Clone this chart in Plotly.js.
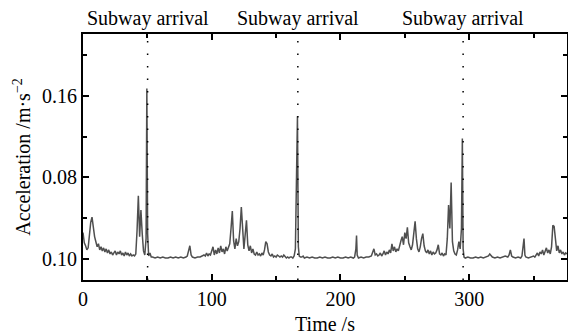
<!DOCTYPE html>
<html>
<head>
<meta charset="utf-8">
<script src="https://cdn.plot.ly/plotly-3.0.1.min.js"></script>
<style>html,body{margin:0;padding:0;background:#fff;}#chart{width:568px;height:336px;}</style>
</head>
<body>
<div id="chart"></div>
<script>
const timeS = [0,1,2,3,4,5,6,7,8,9,10,11,12,13,14,15,16,17,18,19,20,21,22,23,24,25,26,27,28,29,30,31,32,33,34,35,36,37,38,39,40,41,42,43,44,45,46,47,48,49,49.6,50.2,51,52,53,
54,56,58,60,62,64,66,68,70,72,74,76,78,80,81,82,83,84,85,87,89,91,93,94,95,96,97,98,99,100,101,102,103,104,105,106,107,108,109,110,111,112,113,114,115,116,117,118,119,120,121,122,123,124,125,126,127,128,129,130,131,132,133,134,135,136,137,138,139,140,141,142,143,144,145,146,147,148,149,150,151,152,153,154,155,156,157,158,159,160,161,162,163,164,165,166.6,167.3,168,169,170,171,
172,174,176,178,180,182,184,186,188,190,192,194,196,198,200,202,204,206,208,210,211,212,212.5,213,214,216,218,220,222,224,225,226,227,228,229,230,231,232,233,234,235,236,237,238,239,240,241,242,243,244,245,246,247,248,249,250,251,252,253,254,255,256,257,258,259,260,261,262,263,264,265,266,267,268,269,270,271,272,273,274,275,276,277,278,279,280,281,282,283,284,285,286,287,288,289,290,291,292,293,294,294.7,295.3,296,
297,299,301,303,305,307,309,311,313,315,316,317,318,320,322,324,326,328,330,331,332,333,334,336,338,340,341,342,342.6,343.3,344,346,348,350,351,352,353,354,355,356,357,358,359,360,361,362,363,364,365,366,367,368,369,370,371,372,373,374,375,376];
const accel = [0.026,0.016,0.013,0.009,0.011,0.024,0.036,0.041,0.030,0.022,0.017,0.012,0.015,0.009,0.012,0.008,0.011,0.007,0.010,0.006,0.009,0.005,0.007,0.004,0.006,0.008,0.004,0.007,0.005,0.008,0.004,0.006,0.003,0.007,0.004,0.006,0.003,0.005,0.003,0.004,0.003,0.005,0.028,0.062,0.022,0.048,0.025,0.008,0.004,0.020,0.167,0.025,0.003,0.006,0.002,
0.002,0.001,0.002,0.001,0.002,0.001,0.001,0.002,0.001,0.002,0.001,0.002,0.001,0.002,0.003,0.008,0.013,0.004,0.002,0.001,0.002,0.002,0.003,0.004,0.003,0.006,0.003,0.005,0.004,0.008,0.012,0.004,0.009,0.005,0.011,0.006,0.013,0.007,0.010,0.005,0.012,0.008,0.011,0.015,0.030,0.047,0.018,0.010,0.020,0.013,0.017,0.030,0.051,0.022,0.010,0.024,0.038,0.014,0.008,0.013,0.006,0.010,0.005,0.004,0.007,0.004,0.005,0.003,0.006,0.004,0.009,0.017,0.015,0.007,0.004,0.003,0.005,0.002,0.003,0.002,0.004,0.003,0.002,0.003,0.002,0.004,0.002,0.001,0.002,0.001,0.002,0.002,0.001,0.003,0.010,0.140,0.012,0.003,0.002,0.002,0.003,
0.001,0.002,0.001,0.002,0.001,0.001,0.002,0.001,0.002,0.001,0.001,0.002,0.001,0.002,0.001,0.001,0.002,0.001,0.002,0.001,0.002,0.010,0.023,0.004,0.001,0.002,0.001,0.002,0.002,0.003,0.006,0.010,0.004,0.005,0.003,0.004,0.006,0.003,0.005,0.008,0.004,0.007,0.005,0.009,0.006,0.015,0.008,0.012,0.007,0.010,0.008,0.014,0.018,0.022,0.014,0.026,0.020,0.031,0.016,0.012,0.009,0.014,0.025,0.037,0.020,0.010,0.007,0.012,0.020,0.025,0.013,0.008,0.006,0.009,0.005,0.008,0.004,0.007,0.005,0.006,0.009,0.014,0.005,0.004,0.006,0.003,0.005,0.004,0.020,0.053,0.030,0.075,0.017,0.008,0.005,0.004,0.009,0.017,0.010,0.030,0.118,0.010,0.002,
0.001,0.002,0.001,0.001,0.002,0.001,0.002,0.001,0.002,0.003,0.005,0.003,0.002,0.001,0.002,0.001,0.002,0.003,0.002,0.004,0.009,0.003,0.002,0.001,0.002,0.001,0.003,0.012,0.020,0.004,0.002,0.001,0.002,0.003,0.002,0.004,0.006,0.003,0.007,0.005,0.009,0.004,0.008,0.011,0.006,0.009,0.005,0.012,0.033,0.032,0.020,0.008,0.013,0.006,0.009,0.005,0.007,0.004,0.006,0.005];
const arrivalTimes = [50.2, 166.9, 295.3];
const arrivalLabel = "Subway arrival";
const yTickVals = [0, 0.08, 0.16];
const yTickText = ["0.10", "0.08", "0.16"];
const yMinorVals = [0.04, 0.12, 0.20];
const xTickVals = [0, 100, 200, 300];

const font = {family: "'Liberation Serif', 'Times New Roman', serif", size: 20, color: "#000"};

const shapes = arrivalTimes.map(t => ({
  type: "line", xref: "x", yref: "paper", x0: t, x1: t, y0: 0, y1: 1,
  line: {color: "#000", width: 1.5, dash: "1.5px,11px"}, layer: "above"
}));
const annotations = arrivalTimes.map(t => ({
  xref: "x", yref: "paper", x: t, y: 1, yanchor: "bottom", xanchor: "center",
  yshift: 2, text: arrivalLabel, showarrow: false, font: font
}));

Plotly.newPlot("chart", [{
  x: timeS, y: accel, type: "scatter", mode: "lines",
  line: {color: "#4f4f4f", width: 1.5}, hoverinfo: "skip"
}], {
  width: 568, height: 336,
  margin: {l: 83, r: 1, t: 34, b: 56},
  paper_bgcolor: "#fff", plot_bgcolor: "#fff",
  font: font,
  showlegend: false,
  xaxis: {
    range: [0, 376], tickmode: "array", tickvals: xTickVals,
    ticks: "inside", ticklen: 6, tickwidth: 2, tickcolor: "#000",
    showline: true, linewidth: 2, linecolor: "#000", mirror: "ticks",
    showgrid: false, zeroline: false,
    minor: {tickmode: "array", tickvals: [50, 150, 250, 350], ticks: "inside", ticklen: 4, tickwidth: 2, tickcolor: "#000", showgrid: false},
    title: {text: "Time /s", font: font, standoff: 8},
    tickfont: font
  },
  yaxis: {
    range: [-0.0205, 0.2205], tickmode: "array", tickvals: yTickVals, ticktext: yTickText,
    ticks: "inside", ticklen: 6, tickwidth: 2, tickcolor: "#000",
    showline: true, linewidth: 2, linecolor: "#000", mirror: "ticks",
    showgrid: false, zeroline: false,
    minor: {tickmode: "array", tickvals: yMinorVals, ticks: "inside", ticklen: 4, tickwidth: 2, tickcolor: "#000", showgrid: false},
    title: {text: "Acceleration /m·s<sup>−2</sup>", font: font, standoff: 6},
    tickfont: font
  },
  shapes: shapes,
  annotations: annotations
}, {displayModeBar: false, staticPlot: true});
</script>
</body>
</html>
